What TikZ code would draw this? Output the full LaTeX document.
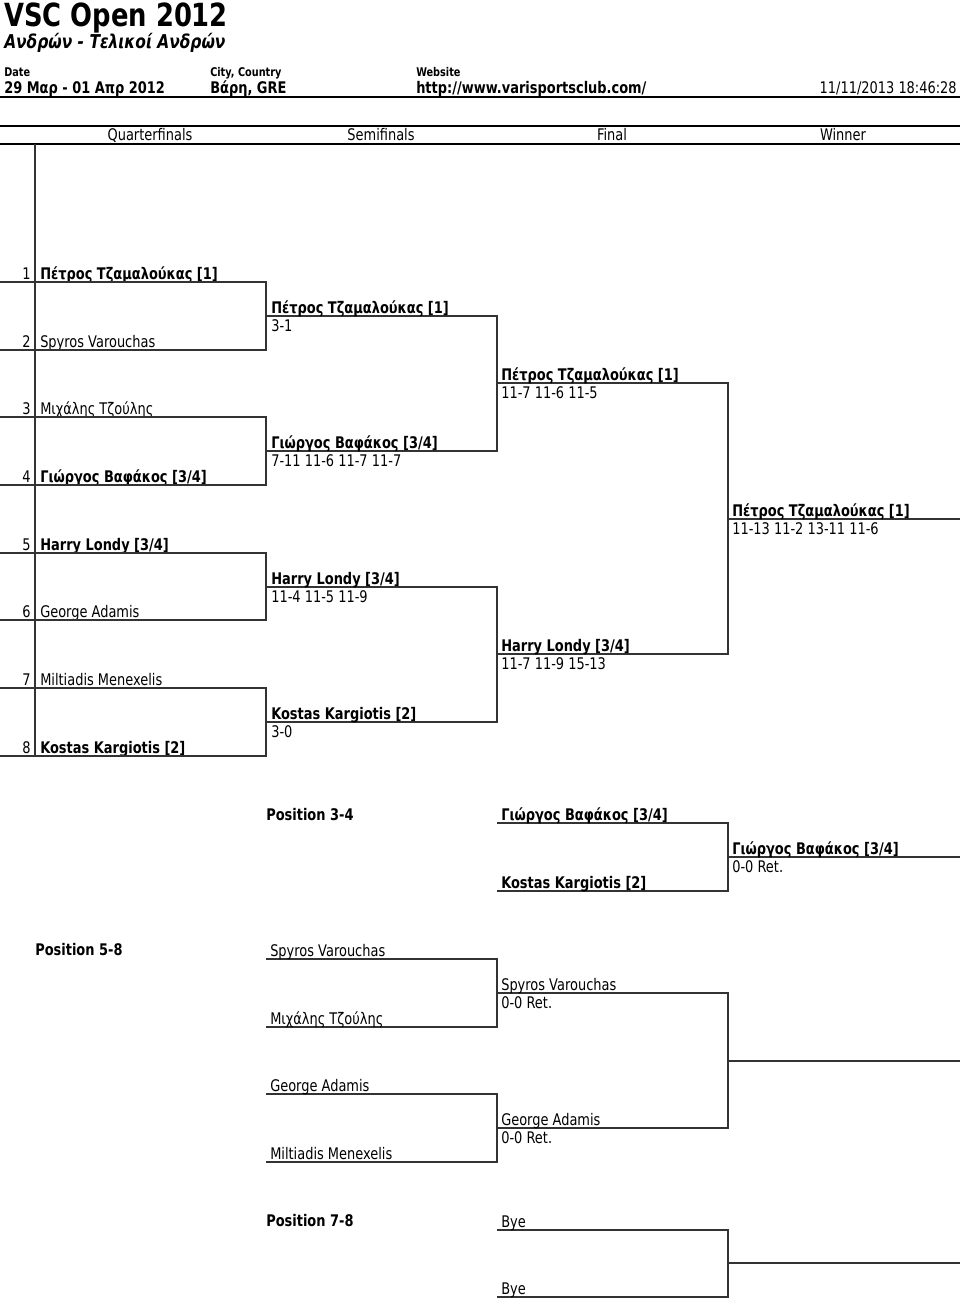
\documentclass[tikz,border=0pt]{standalone}
\usepackage{fontspec}
\setmainfont{DejaVu Sans}[FakeStretch=0.81,
  ItalicFont={DejaVu Sans Oblique},
  BoldItalicFont={DejaVu Sans Bold Oblique}]
\usetikzlibrary{positioning}

\definecolor{linegray}{HTML}{333333}

\tikzset{
  player/.style={anchor=base west, inner sep=0pt, font=\fontsize{12}{14}\selectfont},
  seed/.style={anchor=base east, inner sep=0pt, font=\fontsize{12}{14}\selectfont},
  score/.style={anchor=base west, inner sep=0pt, font=\fontsize{12}{14}\selectfont},
  colhead/.style={anchor=base, inner sep=0pt, font=\fontsize{12}{14}\selectfont},
  poshead/.style={anchor=base west, inner sep=0pt, font=\fontsize{12}{14}\selectfont\bfseries},
  infohead/.style={anchor=base west, inner sep=0pt, font=\fontsize{9}{11}\selectfont\bfseries},
  infoval/.style={anchor=base west, inner sep=0pt, font=\fontsize{12}{14}\selectfont\bfseries},
  bline/.style={draw=linegray, line width=1pt},
  rule/.style={draw=black, line width=1.8pt},
  thinrule/.style={draw=black, line width=1pt}
}

\begin{document}
\begin{tikzpicture}[x=0.75pt,y=-0.75pt]
\useasboundingbox (0,0) rectangle (960,1300);

% heading
\draw (4,26) node[anchor=base west, inner sep=0pt, font=\fontsize{23.9}{28}\selectfont\bfseries] (title) {VSC Open 2012};
\draw (4,48) node[anchor=base west, inner sep=0pt, font=\fontsize{14.3}{17}\selectfont\bfseries\itshape] (subtitle) {Ανδρών - Τελικοί Ανδρών};
\draw (4,76) node[infohead] (datehead) {Date};
\draw (210,76) node[infohead] (cityhead) {City, Country};
\draw (416,76) node[infohead] (webhead) {Website};
\draw (4,93) node[infoval] (date) {29 Μαρ - 01 Απρ 2012};
\draw (210,93) node[infoval] (city) {Βάρη, GRE};
\draw (416,93) node[infoval] (web) {http://www.varisportsclub.com/};
\draw (957,93) node[anchor=base east, inner sep=0pt, font=\fontsize{12}{14}\selectfont] (stamp) {11/11/2013 18:46:28};
\coordinate (r1w) at (0,97);  \coordinate (r1e) at (960,97);
\draw[rule] (r1w) -- (r1e);

% round titles
\coordinate (r2w) at (0,126); \coordinate (r2e) at (960,126);
\coordinate (r3w) at (0,144); \coordinate (r3e) at (960,144);
\draw[rule] (r2w) -- (r2e);
\draw[thinrule] (r3w) -- (r3e);
\draw (150,140) node[colhead] (qf) {Quarterfinals};
\draw (381,140) node[colhead] (sf) {Semifinals};
\draw (612,140) node[colhead] (fi) {Final};
\draw (843,140) node[colhead] (wi) {Winner};

% seed column
\coordinate (seedtop) at (35,144); \coordinate (seedbot) at (35,756);
\draw[bline] (seedtop) -- (seedbot);

% quarterfinals
\draw (31,279) node[seed] (n1) {1};
\draw (40,279) node[player] (q1) {\bfseries Πέτρος Τζαμαλούκας [1]};
\draw (31,347) node[seed] (n2) {2};
\draw (40,347) node[player] (q2) {Spyros Varouchas};
\draw (31,414) node[seed] (n3) {3};
\draw (40,414) node[player] (q3) {Μιχάλης Τζούλης};
\draw (31,482) node[seed] (n4) {4};
\draw (40,482) node[player] (q4) {\bfseries Γιώργος Βαφάκος [3/4]};
\draw (31,550) node[seed] (n5) {5};
\draw (40,550) node[player] (q5) {\bfseries Harry Londy [3/4]};
\draw (31,617) node[seed] (n6) {6};
\draw (40,617) node[player] (q6) {George Adamis};
\draw (31,685) node[seed] (n7) {7};
\draw (40,685) node[player] (q7) {Miltiadis Menexelis};
\draw (31,753) node[seed] (n8) {8};
\draw (40,753) node[player] (q8) {\bfseries Kostas Kargiotis [2]};
\coordinate (q1w) at (0,282); \coordinate (q1e) at (266,282);
\coordinate (q2w) at (0,350); \coordinate (q2e) at (266,350);
\coordinate (q3w) at (0,417); \coordinate (q3e) at (266,417);
\coordinate (q4w) at (0,485); \coordinate (q4e) at (266,485);
\coordinate (q5w) at (0,553); \coordinate (q5e) at (266,553);
\coordinate (q6w) at (0,620); \coordinate (q6e) at (266,620);
\coordinate (q7w) at (0,688); \coordinate (q7e) at (266,688);
\coordinate (q8w) at (0,756); \coordinate (q8e) at (266,756);
\draw[bline] (q1w) -- (q1e) -- (q2e) -- (q2w);
\draw[bline] (q3w) -- (q3e) -- (q4e) -- (q4w);
\draw[bline] (q5w) -- (q5e) -- (q6e) -- (q6w);
\draw[bline] (q7w) -- (q7e) -- (q8e) -- (q8w);

% semifinals
\coordinate (s1w) at (266,316); \coordinate (s1e) at (497,316);
\coordinate (s2w) at (266,451); \coordinate (s2e) at (497,451);
\coordinate (s3w) at (266,587); \coordinate (s3e) at (497,587);
\coordinate (s4w) at (266,722); \coordinate (s4e) at (497,722);
\draw[bline] (s1w) -- (s1e) -- (s2e) -- (s2w);
\draw[bline] (s3w) -- (s3e) -- (s4e) -- (s4w);
\draw (271,313) node[player] (s1) {\bfseries Πέτρος Τζαμαλούκας [1]};
\draw (271,331) node[score] (s1r) {3-1};
\draw (271,448) node[player] (s2) {\bfseries Γιώργος Βαφάκος [3/4]};
\draw (271,466) node[score] (s2r) {7-11 11-6 11-7 11-7};
\draw (271,584) node[player] (s3) {\bfseries Harry Londy [3/4]};
\draw (271,602) node[score] (s3r) {11-4 11-5 11-9};
\draw (271,719) node[player] (s4) {\bfseries Kostas Kargiotis [2]};
\draw (271,737) node[score] (s4r) {3-0};

% final
\coordinate (f1w) at (497,383); \coordinate (f1e) at (728,383);
\coordinate (f2w) at (497,654); \coordinate (f2e) at (728,654);
\draw[bline] (f1w) -- (f1e) -- (f2e) -- (f2w);
\draw (501,380) node[player] (f1) {\bfseries Πέτρος Τζαμαλούκας [1]};
\draw (501,398) node[score] (f1r) {11-7 11-6 11-5};
\draw (501,651) node[player] (f2) {\bfseries Harry Londy [3/4]};
\draw (501,669) node[score] (f2r) {11-7 11-9 15-13};

% winner
\coordinate (ww) at (728,519); \coordinate (we) at (960,519);
\draw[bline] (ww) -- (we);
\draw (732,516) node[player] (w) {\bfseries Πέτρος Τζαμαλούκας [1]};
\draw (732,534) node[score] (wr) {11-13 11-2 13-11 11-6};

% position 3-4
\draw (266,820) node[poshead] (pos34) {Position 3-4};
\coordinate (a1w) at (497,823); \coordinate (a1e) at (728,823);
\coordinate (a2w) at (497,891); \coordinate (a2e) at (728,891);
\coordinate (aow) at (728,857); \coordinate (aoe) at (960,857);
\draw[bline] (a1w) -- (a1e) -- (a2e) -- (a2w);
\draw[bline] (aow) -- (aoe);
\draw (501,820) node[player] (a1) {\bfseries Γιώργος Βαφάκος [3/4]};
\draw (501,888) node[player] (a2) {\bfseries Kostas Kargiotis [2]};
\draw (732,854) node[player] (ao) {\bfseries Γιώργος Βαφάκος [3/4]};
\draw (732,872) node[score] (aor) {0-0 Ret.};

% position 5-8
\draw (35,955) node[poshead] (pos58) {Position 5-8};
\coordinate (b1w) at (266,959);  \coordinate (b1e) at (497,959);
\coordinate (b2w) at (266,1027); \coordinate (b2e) at (497,1027);
\coordinate (b3w) at (266,1094); \coordinate (b3e) at (497,1094);
\coordinate (b4w) at (266,1162); \coordinate (b4e) at (497,1162);
\draw[bline] (b1w) -- (b1e) -- (b2e) -- (b2w);
\draw[bline] (b3w) -- (b3e) -- (b4e) -- (b4w);
\draw (270,956) node[player] (b1) {Spyros Varouchas};
\draw (270,1024) node[player] (b2) {Μιχάλης Τζούλης};
\draw (270,1091) node[player] (b3) {George Adamis};
\draw (270,1159) node[player] (b4) {Miltiadis Menexelis};
\coordinate (c1w) at (497,993);  \coordinate (c1e) at (728,993);
\coordinate (c2w) at (497,1128); \coordinate (c2e) at (728,1128);
\coordinate (cow) at (728,1061); \coordinate (coe) at (960,1061);
\draw[bline] (c1w) -- (c1e) -- (c2e) -- (c2w);
\draw[bline] (cow) -- (coe);
\draw (501,990) node[player] (c1) {Spyros Varouchas};
\draw (501,1008) node[score] (c1r) {0-0 Ret.};
\draw (501,1125) node[player] (c2) {George Adamis};
\draw (501,1143) node[score] (c2r) {0-0 Ret.};

% position 7-8
\draw (266,1226) node[poshead] (pos78) {Position 7-8};
\coordinate (d1w) at (497,1230); \coordinate (d1e) at (728,1230);
\coordinate (d2w) at (497,1297); \coordinate (d2e) at (728,1297);
\coordinate (dow) at (728,1263); \coordinate (doe) at (960,1263);
\draw[bline] (d1w) -- (d1e) -- (d2e) -- (d2w);
\draw[bline] (dow) -- (doe);
\draw (501,1227) node[player] (d1) {Bye};
\draw (501,1294) node[player] (d2) {Bye};
\end{tikzpicture}
\end{document}
